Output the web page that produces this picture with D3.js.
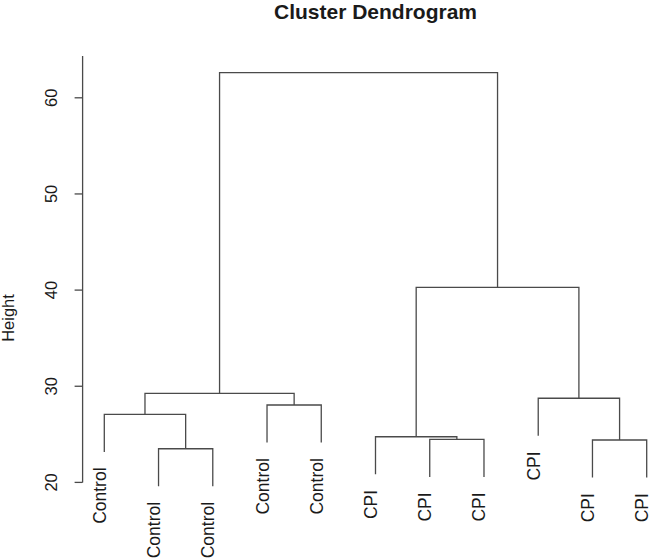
<!DOCTYPE html>
<html>
<head>
<meta charset="utf-8">
<script src="https://cdn.jsdelivr.net/npm/d3@7/dist/d3.min.js"></script>
<style>
  html, body { margin: 0; padding: 0; background: #fff; }
  svg text { font-family: "Liberation Sans", Arial, Helvetica, sans-serif; fill: #1a1a1a; }
</style>
</head>
<body>
<svg id="chart" width="652" height="560"></svg>
<script>
// ---- data (hclust-style) ----
// leaf labels in plotted order
const leafLabels = ["Control","Control","Control","Control","Control","CPI","CPI","CPI","CPI","CPI","CPI"];
// merges: negative = leaf index (1-based, plotted order), positive = earlier merge step
const mergeLeft  = [-2, -10, -7, -6, -1, -4, -9, 5, 4, 8];
const mergeRight = [-3, -11, -8,  3,  1, -5,  2, 6, 7, 9];
const mergeHeight = [23.5, 24.41, 24.48, 24.75, 27.08, 28.05, 28.75, 29.26, 40.29, 62.61];
const yTicks = [20, 30, 40, 50, 60];
const title = "Cluster Dendrogram";
const yLabel = "Height";

// ---- layout ----
const svg = d3.select("#chart");
const x = d3.scaleLinear().domain([0.6, 11.4]).range([82.6, 668.4]);
const y = d3.scaleLinear().domain([20, 60]).range([482.4, 97.8]);
const hang = 0.1 * (d3.max(mergeHeight) - d3.min(mergeHeight));
const lineColor = "#4a4a4a";

// compute node positions
const nodeX = [];   // per merge
function childX(c) { return c < 0 ? -c : nodeX[c - 1]; }
mergeHeight.forEach((h, i) => {
  nodeX[i] = (childX(mergeLeft[i]) + childX(mergeRight[i])) / 2;
});

const g = svg.append("g");
const segs = [];
const leafBottoms = [];
mergeHeight.forEach((h, i) => {
  const l = mergeLeft[i], r = mergeRight[i];
  const lb = l < 0 ? h - hang : mergeHeight[l - 1];
  const rb = r < 0 ? h - hang : mergeHeight[r - 1];
  if (l < 0) leafBottoms[-l - 1] = lb;
  if (r < 0) leafBottoms[-r - 1] = rb;
  segs.push({xl: childX(l), lb, xr: childX(r), rb, h});
});

g.selectAll("path.branch").data(segs).enter().append("path")
  .attr("class", "branch")
  .attr("fill", "none")
  .attr("stroke", lineColor)
  .attr("stroke-width", 1.3)
  .attr("d", d => `M${x(d.xl)},${y(d.lb)}V${y(d.h)}H${x(d.xr)}V${y(d.rb)}`);

// leaf labels
g.selectAll("text.leaf").data(leafLabels).enter().append("text")
  .attr("class", "leaf")
  .attr("font-size", 17.5)
  .attr("text-anchor", "end")
  .attr("transform", (d, i) => `translate(${x(i + 1) + 1.5},${y(leafBottoms[i]) + 15.5}) rotate(-90)`)
  .text(d => d);

// y axis
const axisG = svg.append("g");
axisG.append("line")
  .attr("x1", x(0.6)).attr("x2", x(0.6))
  .attr("y1", y(20)).attr("y2", y(64.35))
  .attr("stroke", lineColor).attr("stroke-width", 1.3);
axisG.selectAll("line.tick").data(yTicks).enter().append("line")
  .attr("class", "tick")
  .attr("x1", x(0.6) - 8).attr("x2", x(0.6))
  .attr("y1", d => y(d)).attr("y2", d => y(d))
  .attr("stroke", lineColor).attr("stroke-width", 1.3);
axisG.selectAll("text.tl").data(yTicks).enter().append("text")
  .attr("class", "tl")
  .attr("font-size", 16.5)
  .attr("text-anchor", "middle")
  .attr("transform", d => `translate(57,${y(d)}) rotate(-90)`)
  .text(d => d);

// y label
svg.append("text")
  .attr("font-size", 16.5)
  .attr("text-anchor", "middle")
  .attr("transform", `translate(14,318) rotate(-90)`)
  .text(yLabel);

// title
svg.append("text")
  .attr("font-size", 21)
  .attr("font-weight", "bold")
  .attr("text-anchor", "middle")
  .attr("x", (x(0.6) + x(11.4)) / 2)
  .attr("y", 19)
  .text(title);
</script>
</body>
</html>
